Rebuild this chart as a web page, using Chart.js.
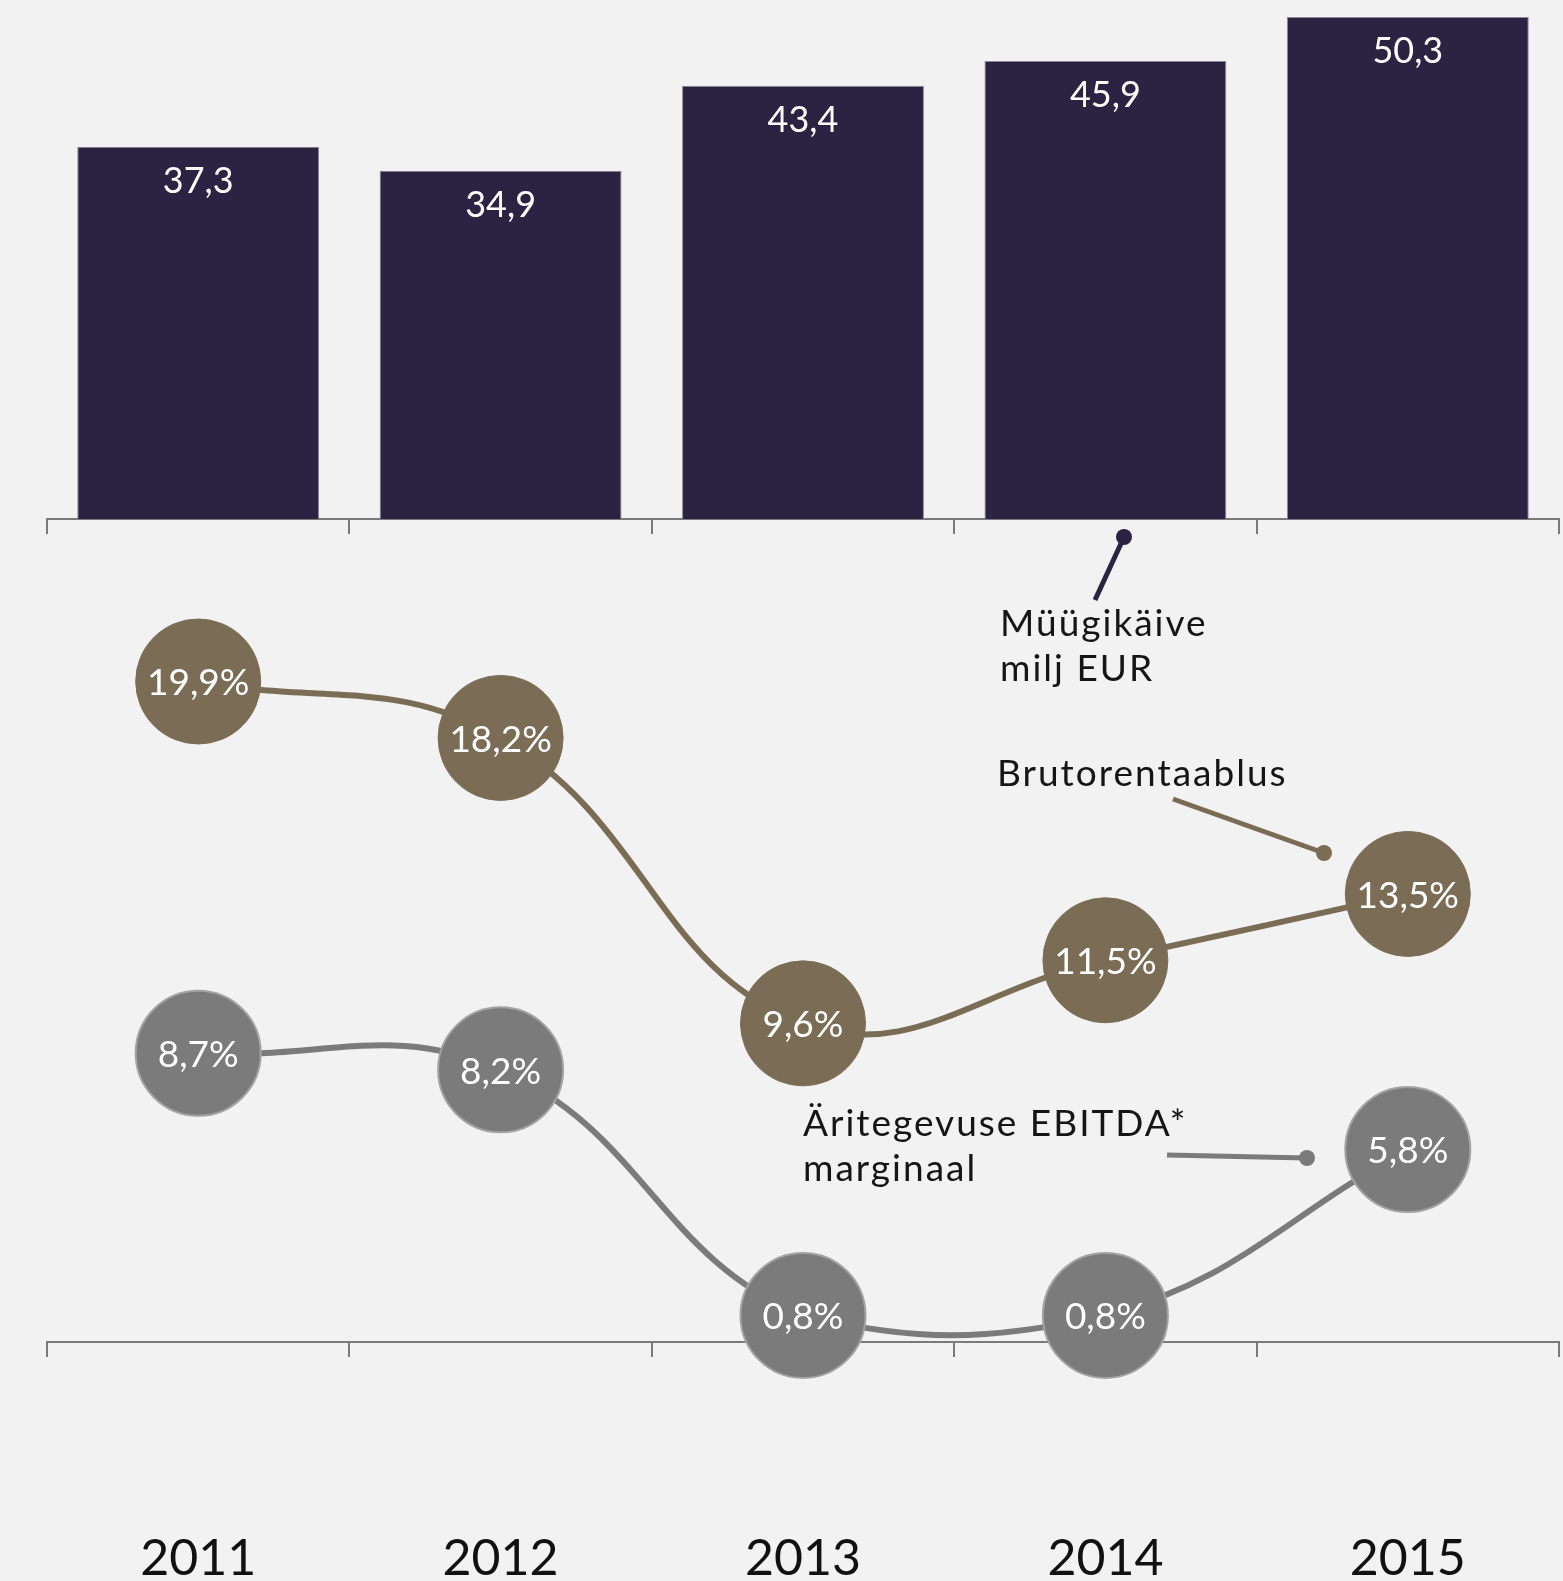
<!DOCTYPE html>
<html>
<head>
<meta charset="utf-8">
<script src="https://cdn.jsdelivr.net/npm/chart.js@4.4.1/dist/chart.umd.min.js"></script>
<style>
    html, body { margin: 0; padding: 0; background: #f2f2f2; }
    #wrap { position: relative; width: 1563px; height: 1581px; overflow: hidden; }
    #wrap canvas { position: absolute; left: 0; top: 0; }
</style>
</head>
<body>
<div id="wrap">
    <canvas id="barChart" width="1563" height="1581"></canvas>
    <canvas id="lineChart" width="1563" height="1581"></canvas>
</div>
<script>
const years = ["2011", "2012", "2013", "2014", "2015"];
const salesMEUR = [37.3, 34.9, 43.4, 45.9, 50.3];
const grossMargin = [19.9, 18.2, 9.6, 11.5, 13.5];
const ebitdaMargin = [8.7, 8.2, 0.8, 0.8, 5.8];

const NAVY = "#2a2442";
const BROWN = "#7b6d55";
const GREY = "#7b7b7b";
const AXIS = "#7a7a7a";
const FONT = "Lato, 'Noto Sans', sans-serif";

const fmt = v => v.toFixed(1).replace(".", ",");

// white numbers inside bars and circles
const valueLabels = {
    id: "valueLabels",
    afterDatasetsDraw(chart) {
        const ctx = chart.ctx;
        ctx.save();
        ctx.fillStyle = "#ffffff";
        ctx.textAlign = "center";
        chart.data.datasets.forEach((ds, di) => {
            const meta = chart.getDatasetMeta(di);
            meta.data.forEach((el, i) => {
                if (meta.type === "bar") {
                    ctx.font = "36px " + FONT;
                    ctx.textBaseline = "alphabetic";
                    ctx.fillText(fmt(ds.data[i]), el.x, el.y + 46);
                } else {
                    ctx.font = "37px " + FONT;
                    ctx.textBaseline = "middle";
                    ctx.fillText(fmt(ds.data[i]) + "%", el.x, el.y + 2);
                }
            });
        });
        ctx.restore();
    }
};

// series names with leader lines
const seriesNotes = {
    id: "seriesNotes",
    afterDraw(chart) {
        const ctx = chart.ctx;
        const notes = [
            { lines: ["Müügikäive", "milj EUR"], x: 1000, y: 636, color: NAVY, from: [1095, 600], to: [1124, 537] },
            { lines: ["Brutorentaablus"], x: 997, y: 786, color: BROWN, from: [1173, 799], to: [1324, 853] },
            { lines: ["Äritegevuse EBITDA*", "marginaal"], x: 803, y: 1136, color: GREY, from: [1167, 1155], to: [1307, 1158] }
        ];
        ctx.save();
        notes.forEach(n => {
            ctx.fillStyle = "#151515";
            ctx.font = "37px " + FONT;
            ctx.letterSpacing = "2px";
            ctx.textAlign = "left";
            ctx.textBaseline = "alphabetic";
            n.lines.forEach((t, k) => ctx.fillText(t, n.x, n.y + k * 45));
            ctx.strokeStyle = n.color;
            ctx.lineWidth = 5;
            ctx.beginPath();
            ctx.moveTo(n.from[0], n.from[1]);
            ctx.lineTo(n.to[0], n.to[1]);
            ctx.stroke();
            ctx.fillStyle = n.color;
            ctx.beginPath();
            ctx.arc(n.to[0], n.to[1], 8, 0, Math.PI * 2);
            ctx.fill();
        });
        ctx.restore();
    }
};

const axisGrid = {
    display: true,
    drawOnChartArea: false,
    drawTicks: true,
    tickLength: 15,
    color: AXIS,
    lineWidth: 2,
    offset: true
};

// fixed axis height, and no side padding from the big year labels
const fitAxis = h => s => {
    s.height = h;
    s.paddingLeft = 0;
    s.paddingRight = 0;
};

new Chart(document.getElementById("barChart"), {
    type: "bar",
    data: {
        labels: years,
        datasets: [{
            data: salesMEUR,
            backgroundColor: NAVY,
            borderColor: "#8c8898",
            borderWidth: 1,
            categoryPercentage: 1,
            barPercentage: 0.8
        }]
    },
    options: {
        responsive: false,
        animation: false,
        events: [],
        layout: { autoPadding: false, padding: { left: 47, right: 4, top: 0, bottom: 0 } },
        plugins: { legend: { display: false }, tooltip: { enabled: false } },
        scales: {
            x: {
                grid: axisGrid,
                border: { display: true, color: AXIS, width: 2 },
                ticks: { display: false },
                afterFit: fitAxis(1581 - 519)
            },
            y: { display: false, min: 0, max: 52 }
        }
    },
    plugins: [valueLabels]
});

new Chart(document.getElementById("lineChart"), {
    type: "line",
    data: {
        labels: years,
        datasets: [
            {
                data: grossMargin,
                borderColor: BROWN,
                borderWidth: 6,
                tension: 0.42,
                pointRadius: 62.5,
                pointBackgroundColor: BROWN,
                pointBorderColor: BROWN,
                pointBorderWidth: 1,
                clip: false
            },
            {
                data: ebitdaMargin,
                borderColor: GREY,
                borderWidth: 6,
                tension: 0.42,
                pointRadius: 62.5,
                pointBackgroundColor: GREY,
                pointBorderColor: "#a3a3a3",
                pointBorderWidth: 2,
                clip: false
            }
        ]
    },
    options: {
        responsive: false,
        animation: false,
        events: [],
        layout: { autoPadding: false, padding: { left: 47, right: 4, top: 545.4, bottom: 0 } },
        plugins: { legend: { display: false }, tooltip: { enabled: false } },
        scales: {
            x: {
                offset: true,
                grid: axisGrid,
                border: { display: true, color: AXIS, width: 2 },
                ticks: {
                    color: "#111111",
                    font: { family: FONT, size: 50 },
                    padding: 172,
                    autoSkip: false,
                    maxRotation: 0
                },
                afterFit: fitAxis(1581 - 1342)
            },
            y: { display: false, min: 0, max: 24 }
        }
    },
    plugins: [valueLabels, seriesNotes]
});
</script>
</body>
</html>
